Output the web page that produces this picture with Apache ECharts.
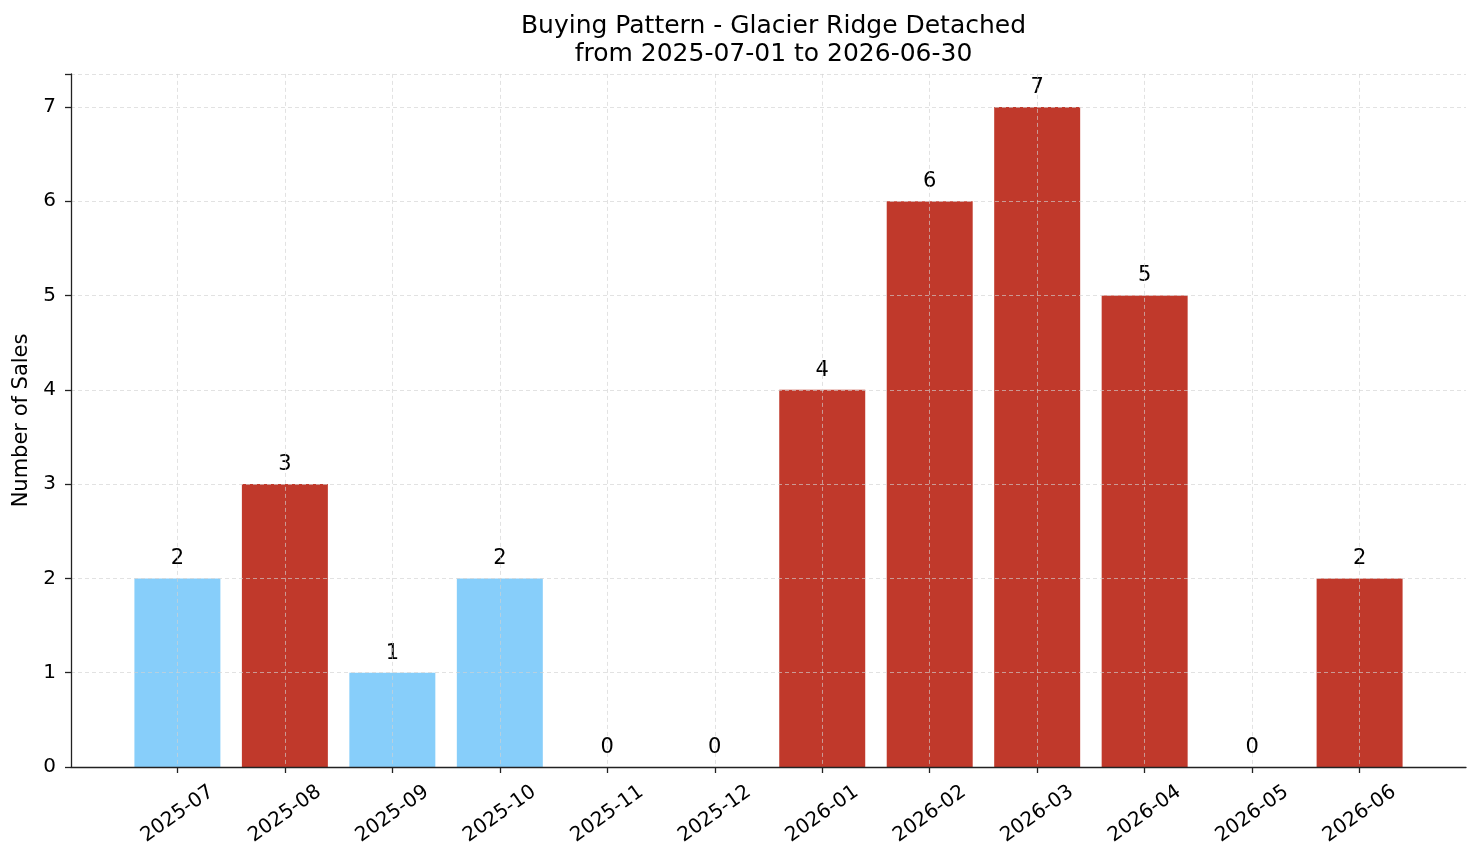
<!DOCTYPE html>
<html>
<head>
<meta charset="utf-8">
<script src="https://cdn.jsdelivr.net/npm/echarts@6/dist/echarts.min.js"></script>
<style>
	html, body { margin: 0; padding: 0; background: #fff; }
	#chart { width: 1481px; height: 863px; }
</style>
</head>
<body>
<div id="chart"></div>
<script>
var months = ['2025-07', '2025-08', '2025-09', '2025-10', '2025-11', '2025-12',
	'2026-01', '2026-02', '2026-03', '2026-04', '2026-05', '2026-06'];
var sales = [2, 3, 1, 2, 0, 0, 4, 6, 7, 5, 0, 2];
var barKind = ['low', 'high', 'low', 'low', 'high', 'high', 'high', 'high', 'high', 'high', 'high', 'high'];
var yTicks = [0, 1, 2, 3, 4, 5, 6, 7];

var kindColor = { low: '#87CEFA', high: '#C0392B' };
var FONT = 'DejaVu Sans';

// plot box, in px
var plotLeft = 71, plotRight = 1466, plotTop = 73.9, plotBottom = 767;
// matplotlib-like x range: -0.99 .. 11.99
var unit = (plotRight - plotLeft) / 12.98;
var firstCenter = plotLeft + 0.99 * unit;

var gridLine = { color: '#d2d2d2', type: [4, 3], width: 0.8, opacity: 0.8 };

var chart = echarts.init(document.getElementById('chart'));

var option = {
	backgroundColor: '#fff',
	animation: false,
	title: {
		text: 'Buying Pattern - Glacier Ridge Detached\nfrom 2025-07-01 to 2026-06-30',
		left: (plotLeft + plotRight) / 2,
		textAlign: 'center',
		top: 7,
		textStyle: {
			fontFamily: FONT,
			fontSize: 25,
			fontWeight: 'normal',
			color: '#000',
			lineHeight: 28
		}
	},
	grid: [
		{ left: plotLeft, width: plotRight - plotLeft, top: plotTop, height: plotBottom - plotTop, containLabel: false, outerBoundsMode: 'none' },
		{ left: firstCenter, width: 11 * unit, top: plotTop, height: plotBottom - plotTop, containLabel: false, outerBoundsMode: 'none' }
	],
	xAxis: [
		{
			type: 'value', gridIndex: 0, min: 0, max: 1, z: 4,
			axisLine: { show: true, lineStyle: { color: '#222', width: 1.3 } },
			axisTick: { show: false },
			axisLabel: { show: false },
			splitLine: { show: false }
		},
		{
			type: 'category', gridIndex: 1, data: months, boundaryGap: false, z: 3,
			axisLine: { show: false },
			axisTick: { show: true, inside: false, length: 6, lineStyle: { color: '#222', width: 1.3 } },
			axisLabel: {
				rotate: 35,
				align: 'center',
				verticalAlign: 'middle',
				margin: 47,
				fontFamily: FONT,
				fontSize: 20,
				color: '#000',
				interval: 0
			},
			splitLine: { show: true, lineStyle: gridLine }
		}
	],
	yAxis: [
		{
			type: 'value', gridIndex: 0, min: 0, max: 7.35, interval: 1, z: 3,
			name: 'Number of Sales',
			nameLocation: 'middle',
			nameRotate: 90,
			nameGap: 34,
			nameTextStyle: { fontFamily: FONT, fontSize: 21, color: '#000' },
			axisLine: { show: true, lineStyle: { color: '#222', width: 1.3 } },
			axisTick: { show: true, inside: false, length: 6, lineStyle: { color: '#222', width: 1.3 } },
			axisLabel: {
				fontFamily: FONT, fontSize: 20, color: '#000', margin: 15,
				formatter: function (v) { return yTicks.indexOf(v) >= 0 ? String(v) : ''; }
			},
			splitLine: { show: true, lineStyle: gridLine }
		},
		{
			type: 'value', gridIndex: 1, min: 0, max: 7.35, show: false,
			splitLine: { show: false }
		}
	],
	series: [
		{
			type: 'bar',
			xAxisIndex: 1,
			yAxisIndex: 1,
			barWidth: 0.8 * unit,
			clip: false,
			z: 2,
			data: sales.map(function (v, i) {
				return { value: v, itemStyle: { color: kindColor[barKind[i]] } };
			}),
			label: {
				show: true,
				position: 'top',
				distance: 9,
				fontFamily: FONT,
				fontSize: 21,
				color: '#000'
			}
		}
	]
};

chart.setOption(option);
</script>
</body>
</html>
